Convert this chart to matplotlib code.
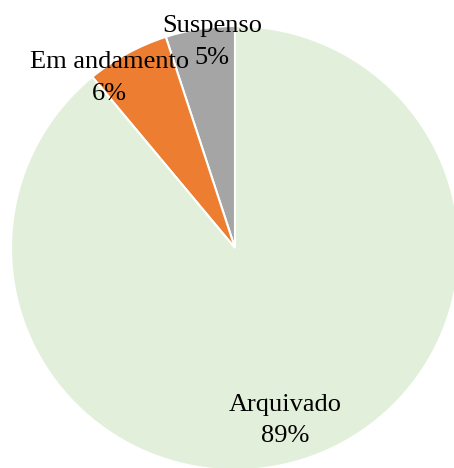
import matplotlib
matplotlib.use('Agg')
import matplotlib.pyplot as plt

# dados do gráfico (situação dos processos)
categorias = ['Suspenso', 'Em andamento', 'Arquivado']
percentuais = [5, 6, 89]
cores = ['#A5A5A5', '#ED7D31', '#E2EFDA']

plt.rcParams['font.family'] = ['Liberation Serif', 'DejaVu Serif']

fig = plt.figure(figsize=(4.54, 4.68), dpi=100)
ax = fig.add_axes([0, 0, 1, 1])
ax.pie(percentuais, colors=cores, startangle=90, counterclock=True,
       radius=1.0, wedgeprops=dict(edgecolor='white', linewidth=1.5))

# posições dos rótulos (centro do bloco de texto)
pos_rotulos = [(-0.103, 0.928), (-0.561, 0.765), (0.224, -0.776)]
for cat, val, (x, y) in zip(categorias, percentuais, pos_rotulos):
    ax.text(x, y, f'{cat}\n{val}%', ha='center', va='center', fontsize=19,
            color='black', linespacing=1.55)

ax.set_xlim(-235 / 224, (454 - 235) / 224)
ax.set_ylim(-(468 - 248) / 222, 248 / 222)
ax.set_aspect('auto')
ax.axis('off')
fig.savefig('out.png', dpi=100)
